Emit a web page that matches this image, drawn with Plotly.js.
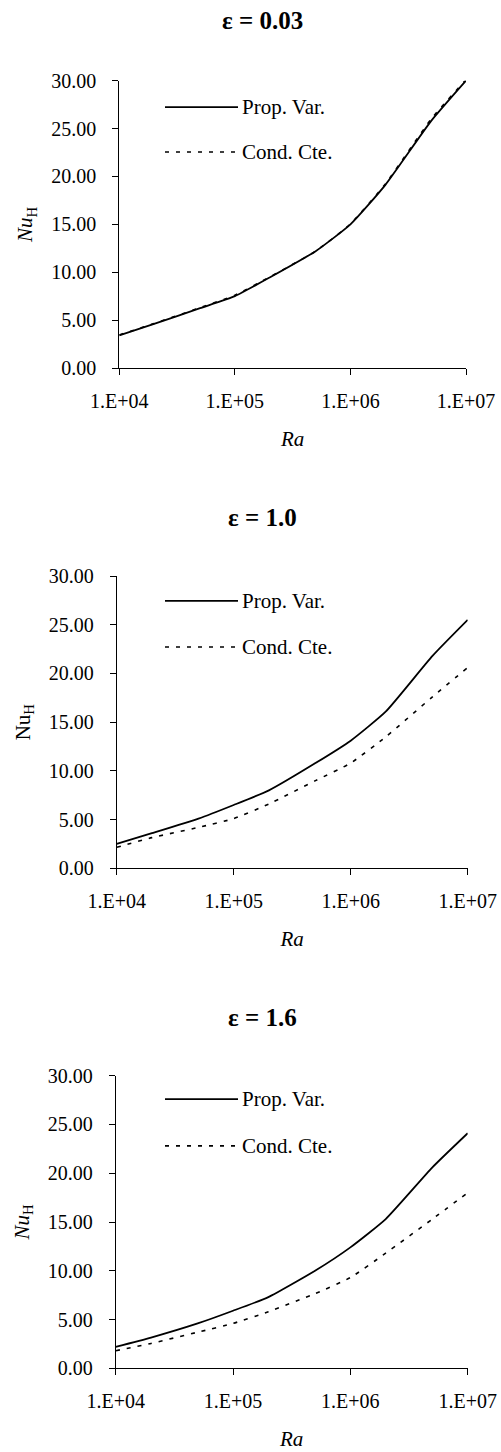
<!DOCTYPE html>
<html>
<head>
<meta charset="utf-8">
<script src="https://cdn.plot.ly/plotly-3.0.1.min.js"></script>
<style>
html,body{margin:0;padding:0;background:#ffffff;}
#chart{width:501px;height:1452px;}
</style>
</head>
<body>
<div id="chart"></div>
<script>
// ---- data ----
const ra = [1e4, 2e4, 5e4, 1e5, 2e5, 5e5, 1e6, 2e6, 5e6, 1e7];

const propVar_e003 = [3.4, 4.6, 6.25, 7.5, 9.45, 12.2, 15.0, 19.1, 25.8, 30.0];
const condCte_e003 = [3.45, 4.65, 6.3, 7.6, 9.5, 12.2, 15.05, 19.2, 26.0, 30.1];

const propVar_e10 = [2.5, 3.6, 5.1, 6.5, 8.0, 10.8, 13.1, 16.1, 21.8, 25.5];
const condCte_e10 = [2.15, 3.15, 4.2, 5.1, 6.6, 9.0, 10.8, 13.5, 17.6, 20.6];

const propVar_e16 = [2.2, 3.15, 4.6, 5.9, 7.3, 10.0, 12.4, 15.3, 20.6, 24.1];
const condCte_e16 = [1.8, 2.55, 3.7, 4.6, 5.8, 7.65, 9.3, 11.8, 15.3, 18.0];

const panelTitles = ['\u03b5 = 0.03', '\u03b5 = 1.0', '\u03b5 = 1.6'];
const seriesNames = ['Prop. Var.', 'Cond. Cte.'];
const xTickVals = [1e4, 1e5, 1e6, 1e7];
const xTickText = ['1.E+04', '1.E+05', '1.E+06', '1.E+07'];
const yTickVals = [0, 5, 10, 15, 20, 25, 30];
const xTitle = '<i>Ra</i>';
const yTitles = ['<i>Nu</i><sub>H</sub>', 'Nu<sub>H</sub>', '<i>Nu</i><sub>H</sub>'];

// ---- styling ----
const FONT = 'Liberation Serif, Times New Roman, serif';
const W = 501, H = 1452;
// pixel boxes of the three plot areas
const boxes = [
  {x0: 119.3, x1: 466.0, y0: 80.7,   y1: 368.0},
  {x0: 116.7, x1: 467.7, y0: 576.0,  y1: 868.3},
  {x0: 115.7, x1: 467.7, y0: 1075.7, y1: 1368.3}
];
const titleY = [20, 517, 1017];
const legendY = [[0.908, 0.752], [0.915, 0.757], [0.920, 0.760]];

const series = [
  [propVar_e003, condCte_e003],
  [propVar_e10, condCte_e10],
  [propVar_e16, condCte_e16]
];

const solidLine = {color: '#000000', width: 1.8, shape: 'spline', smoothing: 0.5};
const dotLine = {color: '#000000', width: 1.6, dash: '4px,7px', shape: 'spline', smoothing: 0.5};

const traces = [];
const layout = {
  width: W, height: H, autosize: false,
  margin: {l: 0, r: 0, t: 0, b: 0, pad: 0},
  paper_bgcolor: '#ffffff', plot_bgcolor: '#ffffff',
  showlegend: false,
  font: {family: FONT, color: '#000000', size: 19},
  annotations: [], shapes: []
};

series.forEach((pair, i) => {
  const s = i === 0 ? '' : String(i + 1);
  const xa = 'x' + s, ya = 'y' + s;
  traces.push({x: ra, y: pair[0], xaxis: xa, yaxis: ya, type: 'scatter', mode: 'lines',
    name: seriesNames[0], line: solidLine, hoverinfo: 'x+y'});
  traces.push({x: ra, y: pair[1], xaxis: xa, yaxis: ya, type: 'scatter', mode: 'lines',
    name: seriesNames[1], line: dotLine, hoverinfo: 'x+y'});

  const b = boxes[i];
  layout['xaxis' + s] = {
    type: 'log', range: [4, 7], domain: [b.x0 / W, b.x1 / W], anchor: ya,
    tickvals: xTickVals, ticktext: xTickText,
    ticks: 'outside', ticklen: 6, tickwidth: 1, tickcolor: '#000000',
    showline: true, linecolor: '#000000', linewidth: 1,
    showgrid: false, zeroline: false, automargin: false,
    ticklabelstandoff: 9,
    tickfont: {family: FONT, size: 20, color: '#000000'},
    title: {text: xTitle, font: {family: FONT, size: 21, color: '#000000'}, standoff: 20}
  };
  layout['yaxis' + s] = {
    range: [0, 30], domain: [1 - b.y1 / H, 1 - b.y0 / H], anchor: xa,
    tickvals: yTickVals, tickformat: '.2f',
    ticks: 'outside', ticklen: 6, tickwidth: 1, tickcolor: '#000000',
    showline: true, linecolor: '#000000', linewidth: 1,
    showgrid: false, zeroline: false, automargin: false,
    ticklabelstandoff: 12,
    tickfont: {family: FONT, size: 20, color: '#000000'},
    title: {text: yTitles[i], font: {family: FONT, size: 21, color: '#000000'}, standoff: 12}
  };

  // panel title
  layout.annotations.push({
    xref: 'paper', yref: 'paper', x: 262 / W, y: 1 - titleY[i] / H,
    xanchor: 'center', yanchor: 'middle', showarrow: false,
    text: '<b>' + panelTitles[i] + '</b>',
    font: {family: FONT, size: 25, color: '#000000'}
  });

  // in-plot legend
  const xd = xa + ' domain', yd = ya + ' domain';
  const lx0 = (165 - b.x0) / (b.x1 - b.x0), lx1 = (238 - b.x0) / (b.x1 - b.x0);
  [solidLine, dotLine].forEach((ln, k) => {
    const yy = legendY[i][k];
    layout.shapes.push({type: 'line', xref: xd, yref: yd, x0: lx0, x1: lx1, y0: yy, y1: yy,
      line: {color: ln.color, width: ln.width, dash: ln.dash || 'solid'}});
    layout.annotations.push({xref: xd, yref: yd, x: lx1 + 0.005, y: yy,
      xanchor: 'left', yanchor: 'middle', showarrow: false, text: seriesNames[k],
      font: {family: FONT, size: 21, color: '#000000'}});
  });
});

Plotly.newPlot('chart', traces, layout, {staticPlot: true, displayModeBar: false});
</script>
</body>
</html>
